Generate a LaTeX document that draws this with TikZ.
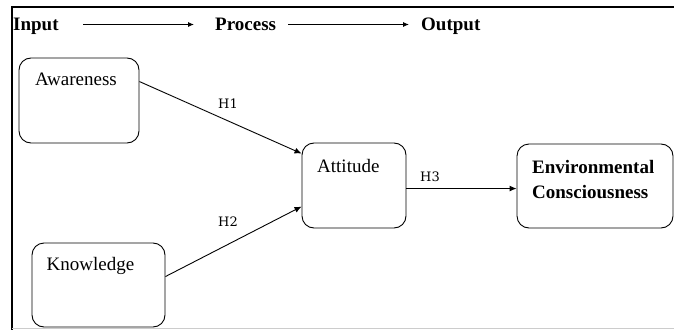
\documentclass[tikz,border=0pt]{standalone}
\usepackage{fontspec}
\setmainfont{Liberation Serif}
\newfontfamily\hfont{DejaVu Serif}
\usetikzlibrary{calc,arrows.meta}
\begin{document}
\begin{tikzpicture}[x=1pt,y=1pt,
  box/.style={draw,line width=0.9pt,rounded corners=12pt,inner sep=0pt},
  lbl/.style={inner sep=0pt,font=\fontsize{19}{25}\selectfont},
  head/.style={inner sep=0pt,font=\fontsize{19}{22}\selectfont\bfseries},
  hyp/.style={inner sep=0pt,font=\fontsize{13}{15}\selectfont\hfont},
  link/.style={line width=0.9pt,-{Latex[length=7pt,width=6pt]}},
  flow/.style={line width=0.9pt,-{Latex[length=6pt,width=5pt]}}]
\useasboundingbox (0,0) rectangle (674,330);
% outer frame (top, left, bottom)
\draw[line width=1.2pt] (674,323) -- (12,323) -- (12,0);
\draw[line width=1pt,black!20] (12,1.5) -- (674,1.5);

% header row
\node[head,anchor=base west] (in) at (13,299.5) {Input};
\node[head,anchor=base west] (pr) at (215,299.5) {Process};
\node[head,anchor=base west] (out) at (421,299.5) {Output};
\coordinate (a1s) at (83,305.5);
\coordinate (a1e) at (194,305.5);
\coordinate (a2s) at (288,305.5);
\coordinate (a2e) at (409,305.5);
\draw[flow] (a1s) -- (a1e);
\draw[flow] (a2s) -- (a2e);

% boxes
\node[box,minimum width=120pt,minimum height=85pt] (aw) at (79,229.5) {};
\node[box,minimum width=133pt,minimum height=84pt] (kn) at (98.5,45) {};
\node[box,minimum width=104pt,minimum height=85pt] (at) at (354,144.5) {};
\node[box,minimum width=156pt,minimum height=84pt] (ec) at (595,144) {};

% box texts
\node[lbl,anchor=base west] (awt) at (35,244) {Awareness};
\node[lbl,anchor=base west] (knt) at (46.5,60) {Knowledge};
\node[lbl,anchor=base west] (att) at (317,158) {Attitude};
\node[lbl,anchor=base west,align=left,font=\fontsize{19}{25}\selectfont\bfseries] (ect) at (532,132) {Environmental\\Consciousness};

% hypotheses
\draw[link] ($(aw.north east)+(0,-24)$) -- ($(at.north west)+(0,-11)$);
\draw[link] ($(kn.north east)+(0,-34)$) -- ($(at.north west)+(0,-64)$);
\draw[link] ($(at.north east)+(0,-46)$) -- ($(ec.north west)+(0,-45)$);
\node[hyp,anchor=base] (h1) at (228,222) {H1};
\node[hyp,anchor=base] (h2) at (228,104) {H2};
\node[hyp,anchor=base] (h3) at (430,149) {H3};
\end{tikzpicture}
\end{document}
